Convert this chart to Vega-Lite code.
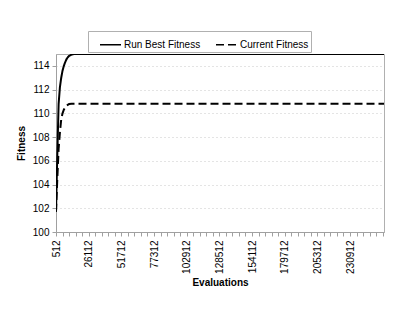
{
  "$schema": "https://vega.github.io/schema/vega-lite/v6.json",
  "width": 328,
  "height": 178,
  "autosize": {"type": "none"},
  "padding": {"left": 56, "top": 54, "right": 31, "bottom": 83},
  "background": "white",
  "config": {
    "font": "Liberation Sans",
    "view": {"stroke": "#b0b0b0", "strokeWidth": 1},
    "axis": {"labelFont": "Liberation Sans", "titleFont": "Liberation Sans", "labelFontSize": 10, "titleFontSize": 10, "titleFontWeight": "bold", "labelColor": "black", "titleColor": "black", "domainColor": "#a0a0a0", "tickColor": "#a0a0a0"}
  },
  "data": {
    "values": [
      {"evaluations": 512, "fitness": 101.7, "series": "Run Best Fitness"},
      {"evaluations": 1536, "fitness": 106.5, "series": "Run Best Fitness"},
      {"evaluations": 2560, "fitness": 110.8, "series": "Run Best Fitness"},
      {"evaluations": 3584, "fitness": 112.2, "series": "Run Best Fitness"},
      {"evaluations": 4608, "fitness": 113.0, "series": "Run Best Fitness"},
      {"evaluations": 5632, "fitness": 113.6, "series": "Run Best Fitness"},
      {"evaluations": 6656, "fitness": 114.0, "series": "Run Best Fitness"},
      {"evaluations": 7680, "fitness": 114.3, "series": "Run Best Fitness"},
      {"evaluations": 8704, "fitness": 114.55, "series": "Run Best Fitness"},
      {"evaluations": 9728, "fitness": 114.72, "series": "Run Best Fitness"},
      {"evaluations": 10752, "fitness": 114.84, "series": "Run Best Fitness"},
      {"evaluations": 12800, "fitness": 114.95, "series": "Run Best Fitness"},
      {"evaluations": 14848, "fitness": 115.0, "series": "Run Best Fitness"},
      {"evaluations": 257536, "fitness": 115.0, "series": "Run Best Fitness"},
      {"evaluations": 512, "fitness": 101.7, "series": "Current Fitness"},
      {"evaluations": 1536, "fitness": 104.5, "series": "Current Fitness"},
      {"evaluations": 2560, "fitness": 107.0, "series": "Current Fitness"},
      {"evaluations": 3584, "fitness": 108.4, "series": "Current Fitness"},
      {"evaluations": 4608, "fitness": 109.5, "series": "Current Fitness"},
      {"evaluations": 5632, "fitness": 110.0, "series": "Current Fitness"},
      {"evaluations": 6656, "fitness": 110.3, "series": "Current Fitness"},
      {"evaluations": 7680, "fitness": 110.5, "series": "Current Fitness"},
      {"evaluations": 8704, "fitness": 110.65, "series": "Current Fitness"},
      {"evaluations": 10752, "fitness": 110.78, "series": "Current Fitness"},
      {"evaluations": 12800, "fitness": 110.8, "series": "Current Fitness"},
      {"evaluations": 257536, "fitness": 110.8, "series": "Current Fitness"}
    ]
  },
  "mark": {"type": "line", "color": "black", "strokeWidth": 2, "clip": true},
  "encoding": {
    "x": {
      "field": "evaluations",
      "type": "quantitative",
      "scale": {"domain": [512, 257536], "nice": false, "zero": false},
      "axis": {
        "title": "Evaluations",
        "values": [512, 5632, 10752, 15872, 20992, 26112, 31232, 36352, 41472, 46592, 51712, 56832, 61952, 67072, 72192, 77312, 82432, 87552, 92672, 97792, 102912, 108032, 113152, 118272, 123392, 128512, 133632, 138752, 143872, 148992, 154112, 159232, 164352, 169472, 174592, 179712, 184832, 189952, 195072, 200192, 205312, 210432, 215552, 220672, 225792, 230912, 236032, 241152, 246272, 251392, 256512],
        "labelExpr": "(datum.value - 512) % 25600 == 0 && datum.value < 250000 ? format(datum.value, 'd') : ''",
        "labelAngle": -90,
        "labelAlign": "right",
        "labelBaseline": "middle",
        "labelOverlap": false,
        "labelPadding": 4,
        "labelBound": false,
        "tickSize": 4,
        "grid": false,
        "titlePadding": 4
      }
    },
    "y": {
      "field": "fitness",
      "type": "quantitative",
      "scale": {"domain": [100, 115], "nice": false, "zero": false},
      "axis": {
        "title": "Fitness",
        "values": [100, 102, 104, 106, 108, 110, 112, 114],
        "grid": true,
        "gridColor": "#c8c8c8",
        "gridDash": [1, 3],
        "tickSize": 4,
        "labelPadding": 3,
        "titlePadding": 6
      }
    },
    "strokeDash": {
      "field": "series",
      "type": "nominal",
      "scale": {"domain": ["Run Best Fitness", "Current Fitness"], "range": [[1, 0], [8, 4]]},
      "legend": {
        "title": null,
        "orient": "none",
        "direction": "horizontal",
        "legendX": 32,
        "legendY": -23,
        "strokeColor": "#b0b0b0",
        "padding": 2,
        "labelFontSize": 10,
        "labelFont": "Liberation Sans",
        "labelColor": "black",
        "symbolType": "stroke",
        "symbolSize": 441,
        "symbolOffset": 9,
        "symbolStrokeColor": "black",
        "symbolStrokeWidth": 1.5,
        "labelOffset": 2,
        "columnPadding": 5
      }
    }
  }
}
